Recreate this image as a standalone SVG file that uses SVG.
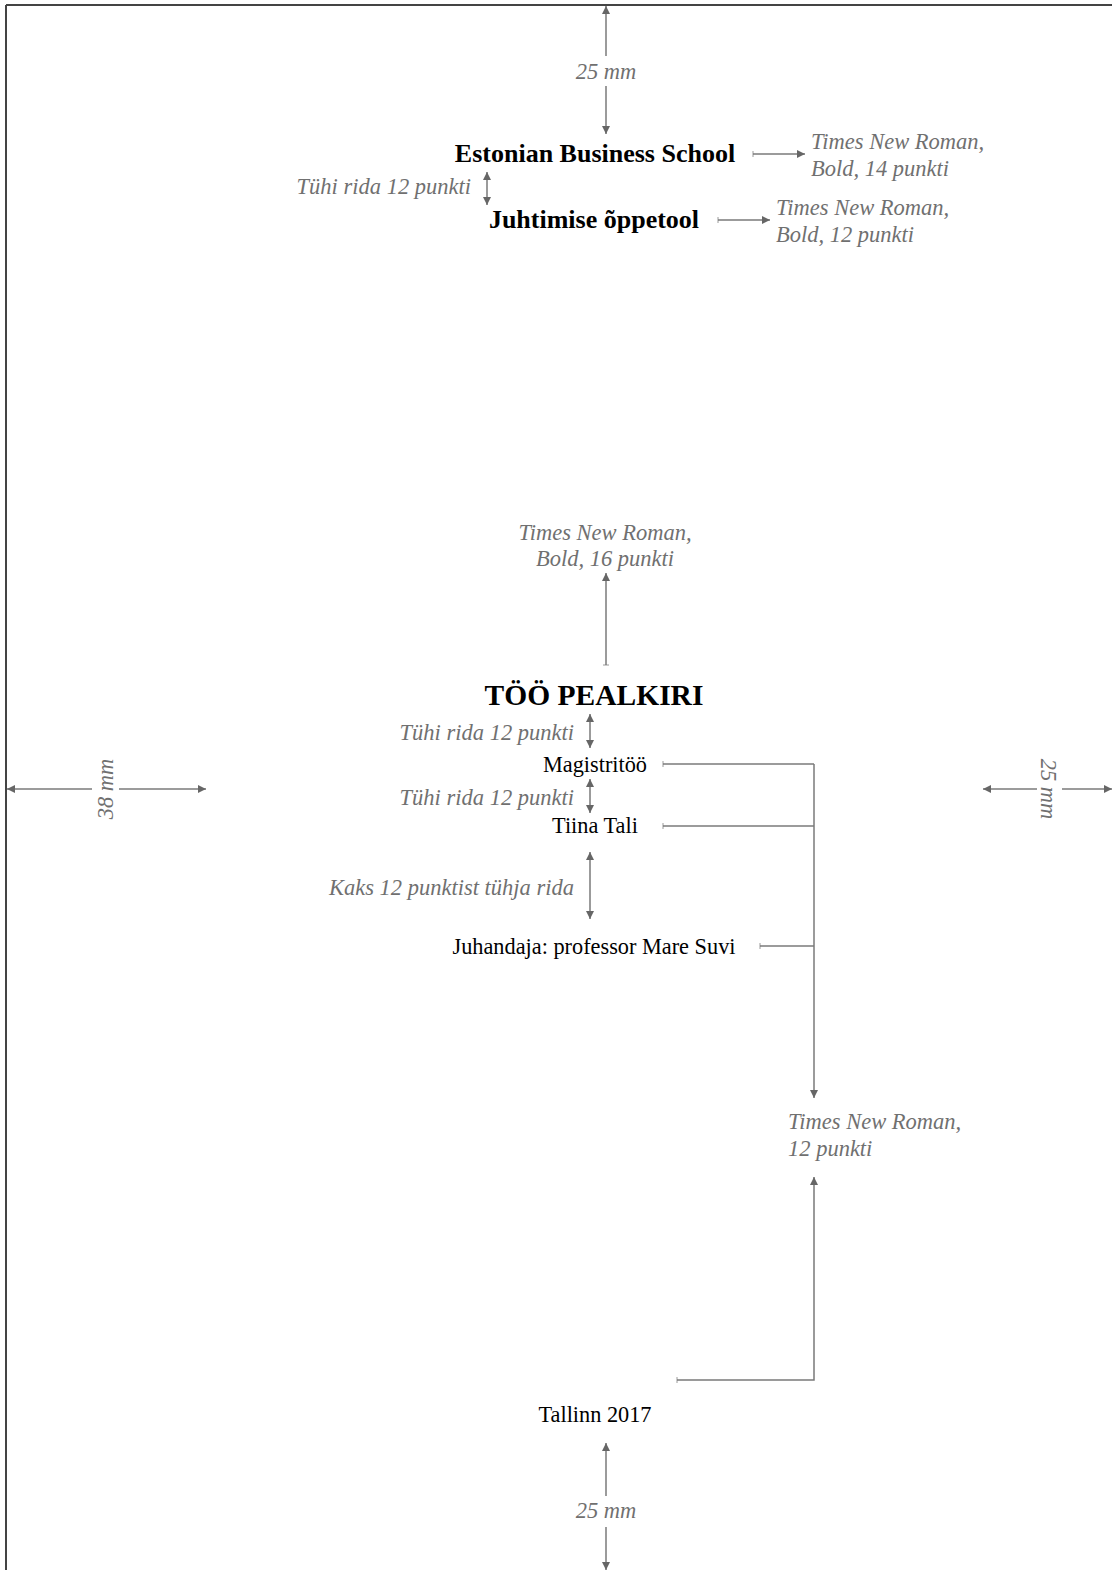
<svg xmlns="http://www.w3.org/2000/svg" width="1113" height="1570" viewBox="0 0 1113 1570">
<style>
.note{font-family:"Liberation Serif","Times New Roman",serif;font-style:italic;font-size:22.5px;fill:#707070}
.bold{font-family:"Liberation Serif","Times New Roman",serif;font-weight:bold;fill:#000}
.reg{font-family:"Liberation Serif","Times New Roman",serif;font-size:22.3px;fill:#000}
.ln{stroke:#7a7a7a;stroke-width:1.5;fill:none}
.ar{stroke:#7a7a7a;stroke-width:1.5;fill:none;marker-end:url(#ah)}
.dar{stroke:#7a7a7a;stroke-width:1.5;fill:none;marker-end:url(#ah);marker-start:url(#ahs)}
</style>
<defs>
<marker id="ah" viewBox="0 0 10 10" refX="10" refY="5" markerWidth="8" markerHeight="8" orient="auto" markerUnits="userSpaceOnUse"><path d="M0,0 L10,5 L0,10 z" fill="#666"/></marker>
<marker id="ahs" viewBox="0 0 10 10" refX="0" refY="5" markerWidth="8" markerHeight="8" orient="auto" markerUnits="userSpaceOnUse"><path d="M10,0 L0,5 L10,10 z" fill="#666"/></marker>
<marker id="tick" viewBox="0 0 2 8" refX="1" refY="4" markerWidth="2" markerHeight="6" orient="auto" markerUnits="userSpaceOnUse"><path d="M1,0 L1,8" stroke="#7a7a7a" stroke-width="1"/></marker>
</defs>
<rect width="1113" height="1570" fill="#fff"/>
<g id="page-border">
<path d="M6,5 H1112 M6,5 V1570" stroke="#444" stroke-width="2" fill="none"/>
</g>
<g id="connectors">
<line class="ar" x1="606" y1="56" x2="606" y2="6"/>
<line class="ar" x1="606" y1="86" x2="606" y2="134"/>
<line class="ar" x1="753" y1="154" x2="805" y2="154" marker-start="url(#tick)"/>
<line class="dar" x1="487" y1="172" x2="487" y2="205"/>
<line class="ar" x1="718" y1="220" x2="770" y2="220" marker-start="url(#tick)"/>
<line class="ar" x1="606" y1="665" x2="606" y2="573" marker-start="url(#tick)"/>
<line class="dar" x1="590" y1="714" x2="590" y2="748"/>
<line class="dar" x1="590" y1="779" x2="590" y2="813"/>
<line class="dar" x1="590" y1="852" x2="590" y2="919"/>
<line class="ln" x1="663" y1="764" x2="814" y2="764" marker-start="url(#tick)"/>
<line class="ln" x1="663" y1="826" x2="814" y2="826" marker-start="url(#tick)"/>
<line class="ln" x1="760" y1="946" x2="814" y2="946" marker-start="url(#tick)"/>
<line class="ar" x1="814" y1="764" x2="814" y2="1098"/>
<polyline class="ar" points="677,1380 814,1380 814,1177" marker-start="url(#tick)"/>
<line class="ar" x1="606" y1="1496" x2="606" y2="1443"/>
<line class="ar" x1="606" y1="1527" x2="606" y2="1570"/>
<line class="ar" x1="92" y1="789" x2="7" y2="789"/>
<line class="ar" x1="119" y1="789" x2="206" y2="789"/>
<line class="ar" x1="1037" y1="789" x2="983" y2="789"/>
<line class="ar" x1="1062" y1="789" x2="1112" y2="789"/>
</g>
<g id="top-margin"><text class="note" x="606" y="79" text-anchor="middle">25 mm</text></g>
<g id="school"><text class="bold" x="595" y="162" font-size="26" text-anchor="middle">Estonian Business School</text></g>
<g id="school-note"><text class="note" x="811" y="149">Times New Roman,</text><text class="note" x="811" y="176">Bold, 14 punkti</text></g>
<g id="gap1"><text class="note" x="471" y="194" text-anchor="end">Tühi rida 12 punkti</text></g>
<g id="dept"><text class="bold" x="594" y="228" font-size="26" text-anchor="middle">Juhtimise õppetool</text></g>
<g id="dept-note"><text class="note" x="776" y="215">Times New Roman,</text><text class="note" x="776" y="242">Bold, 12 punkti</text></g>
<g id="title-note"><text class="note" x="605" y="540" text-anchor="middle">Times New Roman,</text><text class="note" x="605" y="566" text-anchor="middle">Bold, 16 punkti</text></g>
<g id="title"><text class="bold" x="594" y="705" font-size="29.5" text-anchor="middle">TÖÖ PEALKIRI</text></g>
<g id="gap2"><text class="note" x="574" y="740" text-anchor="end">Tühi rida 12 punkti</text></g>
<g id="type"><text class="reg" x="595" y="772" text-anchor="middle">Magistritöö</text></g>
<g id="gap3"><text class="note" x="574" y="805" text-anchor="end">Tühi rida 12 punkti</text></g>
<g id="author"><text class="reg" x="595" y="833" text-anchor="middle">Tiina Tali</text></g>
<g id="gap4"><text class="note" x="574" y="895" text-anchor="end">Kaks 12 punktist tühja rida</text></g>
<g id="supervisor"><text class="reg" x="594" y="954" text-anchor="middle">Juhandaja: professor Mare Suvi</text></g>
<g id="body-note"><text class="note" x="788" y="1129">Times New Roman,</text><text class="note" x="788" y="1156">12 punkti</text></g>
<g id="place"><text class="reg" x="595" y="1422" text-anchor="middle">Tallinn 2017</text></g>
<g id="bottom-margin"><text class="note" x="606" y="1518" text-anchor="middle">25 mm</text></g>
<g id="left-margin"><text class="note" transform="translate(113,789) rotate(-90)" text-anchor="middle">38 mm</text></g>
<g id="right-margin"><text class="note" transform="translate(1041,789) rotate(90)" text-anchor="middle">25 mm</text></g>
</svg>
